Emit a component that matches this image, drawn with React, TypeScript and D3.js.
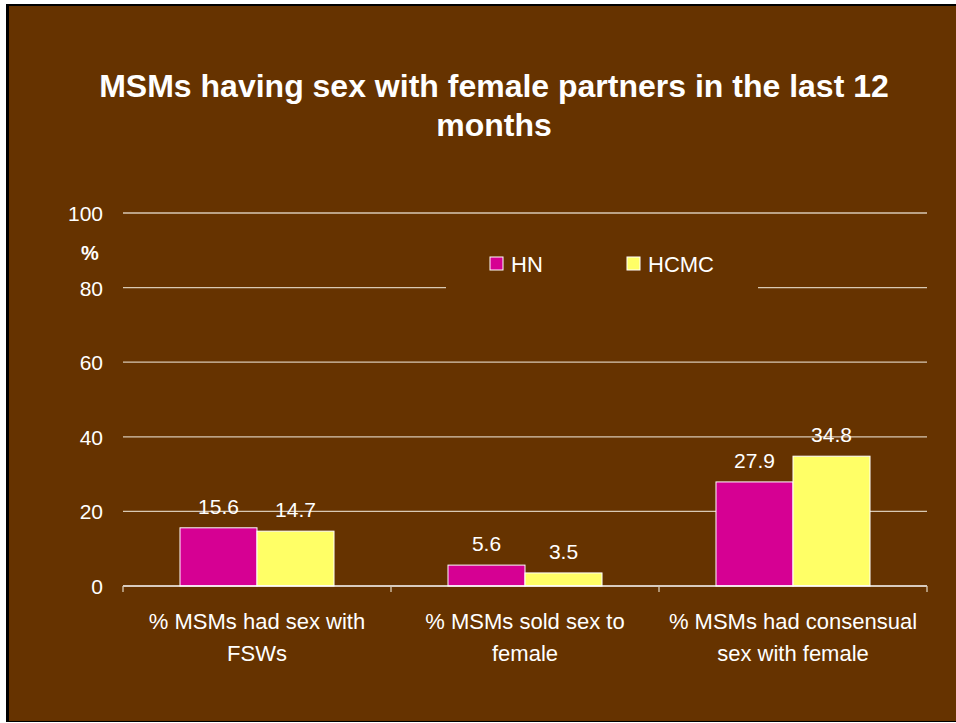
import React from "react";
import * as d3 from "d3";

const categories = [
  ["% MSMs had sex with", "FSWs"],
  ["% MSMs sold sex to", "female"],
  ["% MSMs had consensual", "sex with female"],
];
const seriesNames = ["HN", "HCMC"];
const hnValues = [15.6, 5.6, 27.9];
const hcmcValues = [14.7, 3.5, 34.8];
const yTicks = [0, 20, 40, 60, 80, 100];
const colors = ["#D60093", "#FFFF66"];

const W = 956;
const H = 723;
const font = "'Liberation Sans', Arial, sans-serif";

export default function App() {
  const x = d3
    .scaleBand<number>()
    .domain(categories.map((_, i) => i))
    .range([123, 927])
    .paddingInner(0)
    .paddingOuter(0);
  const inner = d3
    .scaleBand<number>()
    .domain([0, 1])
    .range([0, x.bandwidth()])
    .paddingOuter(0.74)
    .paddingInner(0);
  const y = d3.scaleLinear().domain([0, 100]).range([586, 213]);
  const series = [hnValues, hcmcValues];

  return (
    <svg
      width={W}
      height={H}
      style={{ position: "absolute", left: 0, top: 0, background: "#fff" }}
      fontFamily={font}
    >
      <rect x={6} y={4} width={W} height={718} fill="#000" />
      <rect x={9} y={6} width={W} height={715} fill="#663300" />

      <text x={494} y={97} textAnchor="middle" fill="#fff" fontWeight="bold" fontSize={32}>
        MSMs having sex with female partners in the last 12
      </text>
      <text x={494} y={136} textAnchor="middle" fill="#fff" fontWeight="bold" fontSize={32}>
        months
      </text>

      {yTicks.map((t) => (
        <g key={t}>
          {t > 0 &&
            (t === 80 ? (
              <>
                <line x1={123} x2={446} y1={y(t)} y2={y(t)} stroke="#d9c9b3" strokeWidth={1.3} />
                <line x1={758} x2={927} y1={y(t)} y2={y(t)} stroke="#d9c9b3" strokeWidth={1.3} />
              </>
            ) : (
              <line x1={123} x2={927} y1={y(t)} y2={y(t)} stroke="#d9c9b3" strokeWidth={1.3} />
            ))}
          <text x={103} y={y(t) + 8} textAnchor="end" fill="#fff" fontSize={21}>
            {t}
          </text>
        </g>
      ))}
      <text x={90} y={260} textAnchor="middle" fill="#fff" fontWeight="bold" fontSize={20}>
        %
      </text>

      {categories.map((_, i) =>
        series.map((vals, s) => {
          const bx = (x(i) as number) + (inner(s) as number);
          return (
            <g key={`${i}-${s}`}>
              <rect
                x={bx}
                y={y(vals[i])}
                width={inner.bandwidth()}
                height={y(0) - y(vals[i])}
                fill={colors[s]}
                stroke="#fff"
                strokeWidth={1}
              />
              <text
                x={bx + inner.bandwidth() / 2}
                y={y(vals[i]) - 14}
                textAnchor="middle"
                fill="#fff"
                fontSize={21}
              >
                {vals[i].toFixed(1)}
              </text>
            </g>
          );
        })
      )}

      <line x1={123} x2={927} y1={586} y2={586} stroke="#fff" strokeWidth={1.5} />
      {[0, 1, 2, 3].map((k) => {
        const tx = 123 + k * x.bandwidth();
        return <line key={k} x1={tx} x2={tx} y1={586} y2={592} stroke="#d9c9b3" strokeWidth={1.3} />;
      })}

      {categories.map((lines, i) => (
        <text
          key={i}
          x={(x(i) as number) + x.bandwidth() / 2}
          textAnchor="middle"
          fill="#fff"
          fontSize={22}
        >
          {lines.map((l, j) => (
            <tspan key={j} x={(x(i) as number) + x.bandwidth() / 2} y={629 + j * 32}>
              {l}
            </tspan>
          ))}
        </text>
      ))}

      {seriesNames.map((n, s) => {
        const lx = s === 0 ? 490 : 627;
        return (
          <g key={n}>
            <rect x={lx} y={257} width={13} height={13} fill={colors[s]} stroke="#fff" strokeWidth={1} />
            <text x={lx + 21} y={272} fill="#fff" fontSize={22}>
              {n}
            </text>
          </g>
        );
      })}
    </svg>
  );
}
